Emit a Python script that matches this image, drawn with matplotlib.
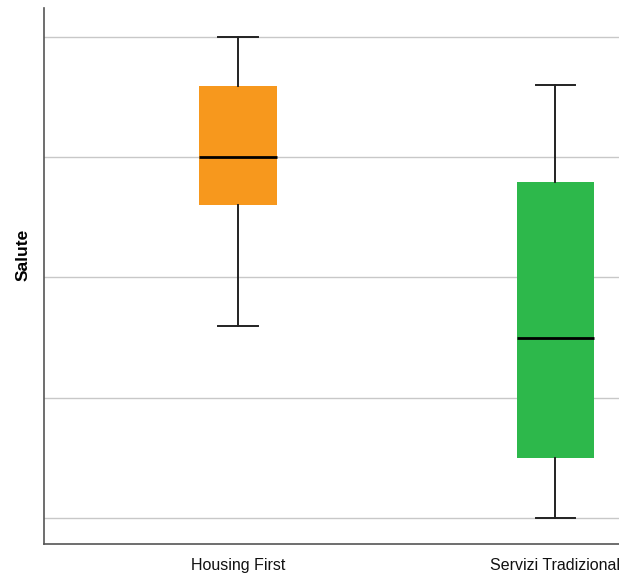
import numpy as np
import matplotlib.pyplot as plt

# ── Dati: statistiche dei box (min, Q1, mediana, Q3, max) ──
gruppi = ["Housing First", "Servizi Tradizional"]
minimi = [2.60, 1.00]
q1 = [3.60, 1.50]
mediane = [4.00, 2.50]
q3 = [4.59, 3.79]
massimi = [5.00, 4.60]
colori = ["#F7981D", "#2DB84B"]

stats = []
for g, lo, a, m, b, hi in zip(gruppi, minimi, q1, mediane, q3, massimi):
    stats.append({"label": g, "whislo": lo, "q1": a, "med": m, "q3": b, "whishi": hi, "fliers": []})

fig = plt.figure(figsize=(6.19, 5.77), dpi=100)
ax = fig.add_axes([44 / 619, 33 / 577, 575 / 619, 536 / 577])

bp = ax.bxp(stats, positions=[0, 1], widths=0.245, patch_artist=True, showfliers=False,
            boxprops=dict(linewidth=0),
            medianprops=dict(color="black", linewidth=2),
            whiskerprops=dict(color="#222222", linewidth=1.4),
            capprops=dict(color="#222222", linewidth=1.4),
            capwidths=0.123)
for box, c in zip(bp["boxes"], colori):
    box.set_facecolor(c)
    box.set_edgecolor(c)

ax.set_xlim(-0.611, 1.2)
ax.set_ylim(0.784, 5.24)
ax.set_yticks([1, 2, 3, 4, 5])
ax.yaxis.grid(True, color="#c8c8c8", linewidth=1)
ax.set_axisbelow(True)
ax.tick_params(axis="y", length=0, labelleft=False)
ax.tick_params(axis="x", length=0, pad=10)
for lab in ax.get_xticklabels():
    lab.set_family(["Liberation Sans Narrow", "Liberation Sans"])
    lab.set_fontsize(11.5)
    lab.set_color("#111111")

for s in ["top", "right"]:
    ax.spines[s].set_visible(False)
for s in ["left", "bottom"]:
    ax.spines[s].set_color("#555555")
    ax.spines[s].set_linewidth(1.2)

fig.text(23 / 619, 1 - 255 / 577, "Salute", rotation=90, ha="center", va="center",
         fontsize=12.5, fontweight="bold", family="Liberation Sans")

fig.savefig("out.png", dpi=100)
